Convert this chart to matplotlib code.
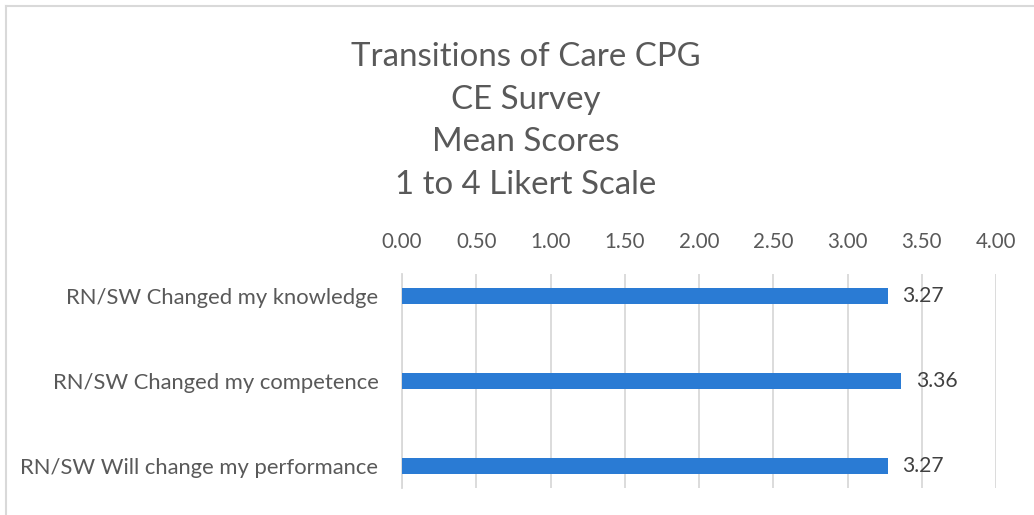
import numpy as np
import matplotlib as mpl
mpl.use('Agg')
import matplotlib.pyplot as plt
from matplotlib.lines import Line2D

categories = ["RN/SW Changed my knowledge", "RN/SW Changed my competence", "RN/SW Will change my performance"]
scores = [3.27, 3.36, 3.27]
ticks = [0, 0.5, 1.0, 1.5, 2.0, 2.5, 3.0, 3.5, 4.0]
title = "Transitions of Care CPG\nCE Survey\nMean Scores\n1 to 4 Likert Scale"

plt.rcParams['font.family'] = ['Lato', 'DejaVu Sans']
txt = '#595959'

fig = plt.figure(figsize=(10.34, 5.15), dpi=100)
ax = fig.add_axes([402 / 1034, 1 - 488 / 515, (996 - 402) / 1034, (488 - 274) / 515])

y_pos = np.arange(len(categories))
ax.barh(y_pos, scores, height=0.19, color='#2A7BD4', zorder=3)
for y, v in zip(y_pos, scores):
    ax.text(v + 0.1, y, f"{v:.2f}", va='center', ha='left', fontsize=15.2, color='#404040', zorder=4)

ax.set_xlim(0, 4)
ax.set_ylim(2.26, -0.26)
ax.set_yticks(y_pos)
ax.set_yticklabels(categories, fontsize=15.8, color=txt)
ax.set_xticks(ticks)
ax.set_xticklabels([f"{t:.2f}" for t in ticks], fontsize=14.8, color=txt)
ax.xaxis.tick_top()
ax.tick_params(axis='x', length=0, pad=16)
ax.tick_params(axis='y', length=0, pad=17)
ax.xaxis.grid(True, color='#D9D9D9', linewidth=1.3, zorder=0)
for s in ['top', 'right', 'bottom']:
    ax.spines[s].set_visible(False)
ax.spines['left'].set_color('#D9D9D9')
ax.spines['left'].set_linewidth(1.3)

fig.text(526 / 1034, 1 - 121 / 515, title, ha='center', va='center', fontsize=23.8,
         color=txt, linespacing=1.52)

# chart area border (top and left only visible)
fig.add_artist(Line2D([6 / 1034, 1], [1 - 6 / 515, 1 - 6 / 515], color='#D9D9D9', lw=1.5))
fig.add_artist(Line2D([6 / 1034, 6 / 1034], [0, 1 - 6 / 515], color='#D9D9D9', lw=1.5))

plt.savefig("out.png", dpi=100)
